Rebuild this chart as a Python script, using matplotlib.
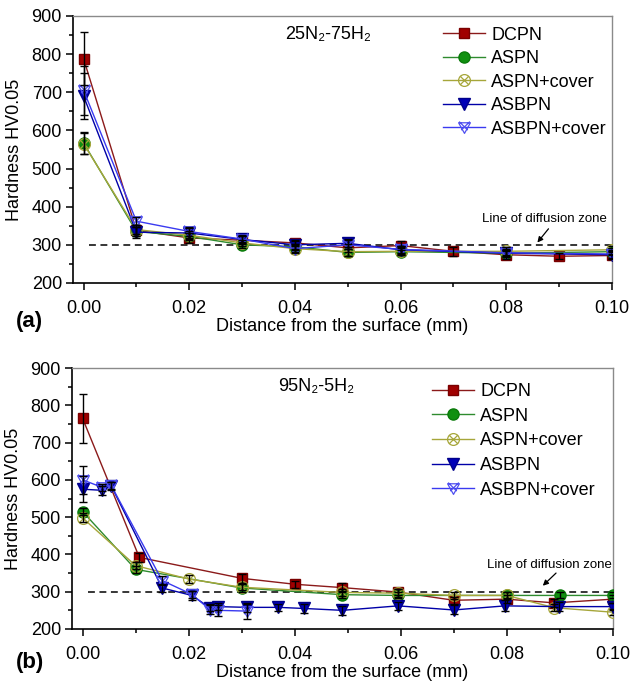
import matplotlib
matplotlib.use("Agg")
import matplotlib.pyplot as plt
from matplotlib.path import Path
from matplotlib.ticker import MultipleLocator, FormatStrFormatter

plt.rcParams['font.family'] = ['Liberation Sans', 'DejaVu Sans']

# ---------------- data: panel (a) 25N2-75H2 ----------------
a_dcpn_x = [0.00, 0.01, 0.02, 0.03, 0.04, 0.05, 0.06, 0.07, 0.08, 0.09, 0.10]
a_dcpn_y = [788, 338, 318, 312, 305, 292, 298, 283, 274, 270, 272]
a_dcpn_e = [70, 15, 12, 10, 8, 10, 12, 12, 10, 8, 8]

a_other_x = [0.00, 0.01, 0.02, 0.03, 0.04, 0.05, 0.06, 0.08, 0.10]
a_aspn_y = [567, 335, 322, 300, 295, 280, 282, 278, 282]
a_aspn_e = [30, 12, 10, 8, 8, 10, 10, 8, 10]
a_aspnc_y = [565, 340, 325, 305, 290, 282, 283, 283, 287]
a_aspnc_e = [28, 12, 10, 8, 10, 12, 10, 10, 10]
a_asbpn_y = [690, 333, 331, 314, 300, 304, 287, 278, 274]
a_asbpn_e = [60, 15, 12, 10, 10, 10, 10, 8, 10]
a_asbpnc_y = [705, 362, 335, 315, 290, 300, 288, 279, 276]
a_asbpnc_e = [65, 10, 12, 10, 12, 12, 10, 10, 10]

# ---------------- data: panel (b) 95N2-5H2 ----------------
b_dcpn_x = [0.000, 0.0107, 0.030, 0.040, 0.049, 0.0595, 0.070, 0.080, 0.089, 0.100]
b_dcpn_y = [765, 392, 336, 320, 311, 299, 277, 280, 270, 280]
b_dcpn_e = [66, 12, 12, 10, 12, 8, 10, 10, 10, 10]

b_aspn_x = [0.000, 0.010, 0.030, 0.049, 0.0595, 0.080, 0.090, 0.100]
b_aspn_y = [515, 360, 310, 292, 290, 290, 290, 290]
b_aspn_e = [10, 10, 10, 10, 8, 8, 8, 8]

b_aspnc_x = [0.000, 0.010, 0.020, 0.030, 0.049, 0.0595, 0.070, 0.080, 0.089, 0.100]
b_aspnc_y = [498, 370, 334, 312, 298, 296, 290, 290, 257, 245]
b_aspnc_e = [12, 10, 10, 8, 10, 10, 10, 10, 10, 8]

b_asbpn_x = [0.000, 0.0037, 0.0054, 0.015, 0.0206, 0.024, 0.0256, 0.031,
             0.0369, 0.0418, 0.049, 0.0595, 0.070, 0.0797, 0.0898, 0.100]
b_asbpn_y = [575, 572, 584, 310, 290, 257, 260, 258, 258, 255, 250, 262, 251, 262, 260, 260]
b_asbpn_e = [35, 12, 10, 10, 12, 10, 10, 12, 10, 12, 12, 10, 12, 15, 12, 10]

b_asbpnc_x = [0.000, 0.0037, 0.0054, 0.015, 0.0206, 0.024, 0.0256, 0.031]
b_asbpnc_y = [600, 580, 585, 330, 293, 252, 250, 248]
b_asbpnc_e = [38, 10, 10, 12, 10, 12, 15, 20]

labels = ["DCPN", "ASPN", "ASPN+cover", "ASBPN", "ASBPN+cover"]
diffusion_line = 300

# ---------------- marker shapes ----------------
def _seg(p0, p1):
    return Path([p0, p1], [Path.MOVETO, Path.LINETO])

circle_x = Path.make_compound_path(
    Path.unit_circle(),
    _seg((-0.7, -0.7), (0.7, 0.7)),
    _seg((-0.7, 0.7), (0.7, -0.7)),
)
tri_down = Path([(-1, 0.8), (1, 0.8), (0, -1), (-1, 0.8)],
                [Path.MOVETO, Path.LINETO, Path.LINETO, Path.CLOSEPOLY])
tri_x = Path.make_compound_path(
    tri_down,
    _seg((-0.9, 1.0), (0.55, -0.45)),
    _seg((0.9, 1.0), (-0.55, -0.45)),
)

styles = [
    dict(color="#8B1A1A", marker="s", mfc="#A00000", mec="#7A0000", ms=7.5),
    dict(color="#2E8B2E", marker="o", mfc="#109010", mec="#0A7A0A", ms=8),
    dict(color="#A6A63A", marker=circle_x, mfc="none", mec="#A6A63A", ms=8.5, mew=0.9),
    dict(color="#0000A8", marker="v", mfc="#0000B8", mec="#00008A", ms=8.5),
    dict(color="#3A3AF0", marker=tri_x, mfc="none", mec="#5050F0", ms=8.5, mew=0.9),
]


def draw_panel(ax, series, title, text_xy, note_xy, arrow_start, arrow_end,
               legend_anchor, legend_spacing):
    handles = []
    for (x, y, e), st, lab in zip(series, styles, labels):
        h, = ax.plot(x, y, lw=1.0, label=lab, zorder=3, **st)
        ax.errorbar(x, y, yerr=e, fmt="none", ecolor="black", elinewidth=1.0,
                    capsize=3, capthick=1.0, zorder=4)
        handles.append(h)

    ax.plot([0.001, 0.10], [diffusion_line, diffusion_line], ls=(0, (4.5, 3)),
            color="black", lw=1.1, zorder=2)

    ax.set_xlim(-0.002, 0.10)
    ax.set_ylim(200, 900)
    ax.xaxis.set_major_locator(MultipleLocator(0.02))
    ax.xaxis.set_minor_locator(MultipleLocator(0.01))
    ax.xaxis.set_major_formatter(FormatStrFormatter("%.2f"))
    ax.yaxis.set_major_locator(MultipleLocator(100))
    ax.yaxis.set_minor_locator(MultipleLocator(50))
    ax.tick_params(which="both", direction="out", top=False, right=False,
                   labelsize=13, width=1.1, colors="black")
    ax.tick_params(which="major", length=5, pad=7)
    ax.tick_params(which="minor", length=3)
    ax.tick_params(axis="y", which="major", pad=3)
    for side in ("left", "bottom"):
        ax.spines[side].set_linewidth(1.2)
        ax.spines[side].set_color("black")
    for side in ("top", "right"):
        ax.spines[side].set_linewidth(1.0)
        ax.spines[side].set_color("#8a8a8a")

    ax.set_xlabel("Distance from the surface (mm)", fontsize=13, labelpad=1)
    ax.set_ylabel("Hardness HV0.05", fontsize=13)
    ax.yaxis.set_label_coords(-0.093, 0.5)

    ax.text(text_xy[0], text_xy[1], title, transform=ax.transAxes,
            fontsize=13, va="center", ha="left")

    ax.text(note_xy[0], note_xy[1], "Line of diffusion zone", fontsize=9.5,
            ha="left", va="center")
    ax.annotate("", xy=arrow_end, xytext=arrow_start,
                arrowprops=dict(arrowstyle="-|>", color="black", lw=0.9,
                                mutation_scale=8, shrinkA=0, shrinkB=0))

    ax.legend(handles=handles, loc="upper left", bbox_to_anchor=legend_anchor,
              frameon=False, fontsize=13, handlelength=2.35, handletextpad=0.35,
              labelspacing=legend_spacing, borderpad=0, borderaxespad=0, numpoints=1)


fig = plt.figure(figsize=(6.31, 6.83), dpi=100)
ax_a = fig.add_axes([0.1157, 0.5857, 0.854, 0.391])
ax_b = fig.add_axes([0.1141, 0.0791, 0.857, 0.382])

series_a = [
    (a_dcpn_x, a_dcpn_y, a_dcpn_e),
    (a_other_x, a_aspn_y, a_aspn_e),
    (a_other_x, a_aspnc_y, a_aspnc_e),
    (a_other_x, a_asbpn_y, a_asbpn_e),
    (a_other_x, a_asbpnc_y, a_asbpnc_e),
]
series_b = [
    (b_dcpn_x, b_dcpn_y, b_dcpn_e),
    (b_aspn_x, b_aspn_y, b_aspn_e),
    (b_aspnc_x, b_aspnc_y, b_aspnc_e),
    (b_asbpn_x, b_asbpn_y, b_asbpn_e),
    (b_asbpnc_x, b_asbpnc_y, b_asbpnc_e),
]

draw_panel(ax_a, series_a, "25N\u2082-75H\u2082", (0.393, 0.929), (0.0755, 368),
           (0.0880, 342), (0.0859, 306), (0.686, 0.960), 0.36)
draw_panel(ax_b, series_b, "95N\u2082-5H\u2082", (0.381, 0.928), (0.0762, 372),
           (0.0893, 350), (0.0868, 316), (0.665, 0.942), 0.42)

fig.text(0.025, 0.5286, "(a)", fontsize=16, fontweight="bold", va="center", ha="left")
fig.text(0.025, 0.0307, "(b)", fontsize=16, fontweight="bold", va="center", ha="left")

fig.savefig("out.png", dpi=100)
